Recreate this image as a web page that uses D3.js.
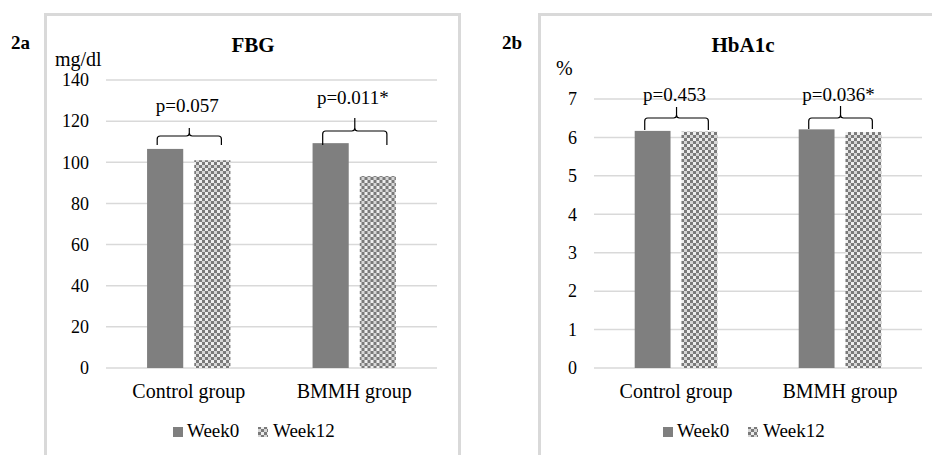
<!DOCTYPE html>
<html>
<head>
<meta charset="utf-8">
<script src="https://cdn.jsdelivr.net/npm/d3@7"></script>
<style>
  body { margin: 0; background: #fff; }
</style>
</head>
<body>
<div id="chart"></div>
<script>
const categories = ["Control group", "BMMH group"]
const seriesNames = ["Week0", "Week12"]

const fbgWeek0 = [106.5, 109.3]
const fbgWeek12 = [101.0, 93.3]
const fbgTicks = [0, 20, 40, 60, 80, 100, 120, 140]
const fbgPValues = ["p=0.057", "p=0.011*"]

const hba1cWeek0 = [6.17, 6.21]
const hba1cWeek12 = [6.15, 6.14]
const hba1cTicks = [0, 1, 2, 3, 4, 5, 6, 7]
const hba1cPValues = ["p=0.453", "p=0.036*"]

const serif = "'Liberation Serif', 'Times New Roman', serif"

const svg = d3.select("#chart")
    .append("svg")
    .attr("width", 932)
    .attr("height", 455)
    .attr("font-family", serif)

// checker pattern for Week12
const defs = svg.append("defs")
const pat = defs.append("pattern")
    .attr("id", "checker")
    .attr("patternUnits", "userSpaceOnUse")
    .attr("width", 6)
    .attr("height", 6)
pat.append("rect").attr("width", 6).attr("height", 6).attr("fill", "#d6d6d6")
pat.append("rect").attr("width", 3).attr("height", 3).attr("fill", "#7a7a7a")
pat.append("rect").attr("x", 3).attr("y", 3).attr("width", 3).attr("height", 3).attr("fill", "#7a7a7a")
pat.append("rect").attr("x", 3).attr("y", 0).attr("width", 3).attr("height", 3).attr("fill", "#eeeeee")

function DrawPanel(opts) {
    const g = svg.append("g")

    // frame
    g.append("rect")
        .attr("x", opts.frame[0])
        .attr("y", 14.5)
        .attr("width", opts.frame[1] - opts.frame[0])
        .attr("height", 470)
        .attr("fill", "none")
        .attr("stroke", "#d9d9d9")
        .attr("stroke-width", 3)

    const yScale = d3.scaleLinear()
        .domain([0, opts.max])
        .range([368, opts.top])

    const xScale = d3.scaleBand()
        .domain(categories)
        .range([opts.plot[0], opts.plot[1]])
    const xInner = d3.scaleBand()
        .domain(seriesNames)
        .range([0, xScale.bandwidth()])
        .paddingInner(0.234)
        .paddingOuter(0.87)

    // grid
    g.append("g")
        .selectAll("line")
        .data(opts.ticks)
        .join("line")
        .attr("x1", opts.plot[0])
        .attr("x2", opts.plot[1])
        .attr("y1", d => yScale(d))
        .attr("y2", d => yScale(d))
        .attr("stroke", "#d9d9d9")
        .attr("stroke-width", 1.5)

    // y axis labels
    const yAxis = g.append("g")
        .attr("transform", "translate(" + opts.labelX + ",0)")
        .call(d3.axisLeft(yScale).tickValues(opts.ticks).tickFormat(d3.format("d")).tickSize(0).tickPadding(0))
    yAxis.attr("font-family", serif)
    yAxis.select(".domain").remove()
    yAxis.selectAll("text")
        .attr("font-size", 18)
        .attr("fill", "#000")

    const rows = categories.map((c, i) => ({cat: c, Week0: opts.week0[i], Week12: opts.week12[i]}))

    const groups = g.append("g")
        .selectAll("g")
        .data(rows)
        .join("g")
        .attr("transform", d => "translate(" + xScale(d.cat) + ",0)")

    groups.selectAll("rect")
        .data(d => seriesNames.map(s => ({key: s, value: d[s]})))
        .join("rect")
        .attr("x", d => xInner(d.key))
        .attr("width", xInner.bandwidth())
        .attr("y", d => yScale(d.value))
        .attr("height", d => 368 - yScale(d.value))
        .attr("fill", d => d.key === "Week0" ? "#7f7f7f" : "url(#checker)")

    // braces with p values
    rows.forEach((d, i) => {
        const x0 = xScale(d.cat) + xInner("Week0") + xInner.bandwidth() * 0.28
        const x1 = xScale(d.cat) + xInner("Week12") + xInner.bandwidth() * 0.75
        const xm = (x0 + x1) / 2
        const yTop = opts.brace[i][0]
        const yEnd = opts.brace[i][1]
        const yPeak = opts.brace[i][2]
        const r = 3
        const path = d3.path()
        path.moveTo(x0, yEnd)
        path.lineTo(x0, yTop + r)
        path.quadraticCurveTo(x0, yTop, x0 + r, yTop)
        path.lineTo(xm - r, yTop)
        path.quadraticCurveTo(xm, yTop, xm, yTop - r)
        path.lineTo(xm, yPeak)
        path.moveTo(xm, yTop - r)
        path.quadraticCurveTo(xm, yTop, xm + r, yTop)
        path.lineTo(x1 - r, yTop)
        path.quadraticCurveTo(x1, yTop, x1, yTop + r)
        path.lineTo(x1, yEnd)
        g.append("path")
            .attr("d", path.toString())
            .attr("fill", "none")
            .attr("stroke", "#000")
            .attr("stroke-width", 1.2)
        g.append("text")
            .attr("x", xm - 2)
            .attr("y", opts.pY[i])
            .attr("text-anchor", "middle")
            .attr("font-size", 19)
            .text(opts.pValues[i])
    })

    // category labels
    g.append("g")
        .selectAll("text")
        .data(categories)
        .join("text")
        .attr("x", d => xScale(d) + xScale.bandwidth() / 2)
        .attr("y", 398)
        .attr("text-anchor", "middle")
        .attr("font-size", 20)
        .text(d => d)

    // title, panel label, unit
    g.append("text")
        .attr("x", opts.titleX)
        .attr("y", 52)
        .attr("text-anchor", "middle")
        .attr("font-size", 21)
        .attr("font-weight", "bold")
        .text(opts.title)
    g.append("text")
        .attr("x", opts.tagX)
        .attr("y", 49)
        .attr("font-size", 19)
        .attr("font-weight", "bold")
        .text(opts.tag)
    g.append("text")
        .attr("x", opts.unitX)
        .attr("y", opts.unitY)
        .attr("font-size", 20)
        .text(opts.unit)

    // legend
    const legend = g.append("g")
        .attr("transform", "translate(" + opts.legendX + ",0)")
    const items = legend.selectAll("g")
        .data(seriesNames)
        .join("g")
        .attr("transform", (d, i) => "translate(" + (i * 85) + ",0)")
    items.append("rect")
        .attr("x", 0)
        .attr("y", 427)
        .attr("width", 10)
        .attr("height", 10)
        .attr("fill", d => d === "Week0" ? "#7f7f7f" : "url(#checker)")
    items.append("text")
        .attr("x", d => d === "Week0" ? 14 : 15)
        .attr("y", 437)
        .attr("font-size", 19)
        .text(d => d)
}

DrawPanel({
    frame: [45.5, 459.5],
    plot: [106, 437],
    labelX: 89,
    top: 80,
    max: 140,
    ticks: fbgTicks,
    week0: fbgWeek0,
    week12: fbgWeek12,
    pValues: fbgPValues,
    brace: [[136, 145, 128], [131, 145, 118]],
    pY: [112, 104],
    title: "FBG",
    titleX: 253,
    tag: "2a",
    tagX: 11,
    unit: "mg/dl",
    unitX: 55,
    unitY: 66,
    legendX: 173,
})

DrawPanel({
    frame: [539.5, 940],
    plot: [594, 922],
    labelX: 577,
    top: 99,
    max: 7,
    ticks: hba1cTicks,
    week0: hba1cWeek0,
    week12: hba1cWeek12,
    pValues: hba1cPValues,
    brace: [[118, 130, 107], [118, 129, 106]],
    pY: [101, 101],
    title: "HbA1c",
    titleX: 743,
    tag: "2b",
    tagX: 502,
    unit: "%",
    unitX: 556,
    unitY: 75,
    legendX: 663,
})
</script>
</body>
</html>
